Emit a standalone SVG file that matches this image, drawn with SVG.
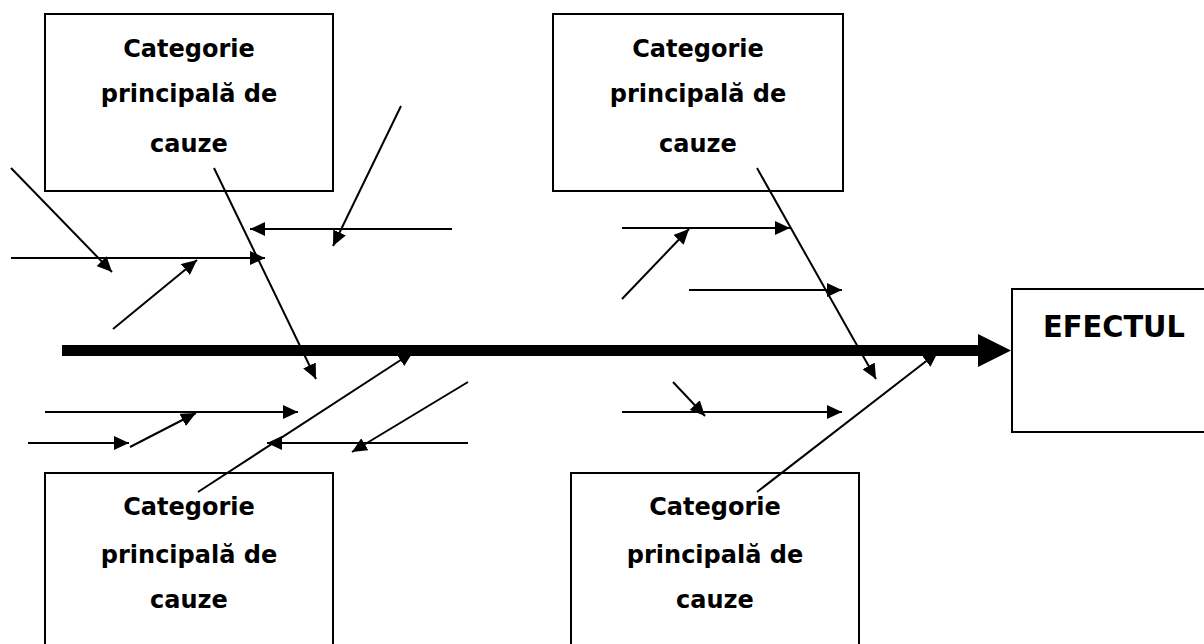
<svg xmlns="http://www.w3.org/2000/svg" width="1204" height="644" viewBox="0 0 1204 644">
<style>
.box{fill:#fff;stroke:#000;stroke-width:2}
.lbl{font-family:"DejaVu Sans",sans-serif;font-weight:bold;font-size:24px;fill:#000;text-anchor:middle}
.eff{font-family:"DejaVu Sans",sans-serif;font-weight:bold;font-size:31px;fill:#000;text-anchor:middle}
.c{stroke:#000;stroke-width:2;fill:none;marker-end:url(#ah)}
</style>
<defs>
<marker id="ah" markerUnits="userSpaceOnUse" markerWidth="16" markerHeight="14" refX="15" refY="7" orient="auto">
<path d="M0,0 L15,7 L0,14 z" fill="#000"/>
</marker>
</defs>
<rect width="1204" height="644" fill="#fff"/>
<g id="cat-top-left">
<rect class="box" x="45" y="14" width="288" height="177"/>
<text class="lbl" x="189" y="57">Categorie</text>
<text class="lbl" x="189" y="102">principală de</text>
<text class="lbl" x="189" y="152">cauze</text>
</g>
<g id="cat-top-right">
<rect class="box" x="553" y="14" width="290" height="177"/>
<text class="lbl" x="698" y="57">Categorie</text>
<text class="lbl" x="698" y="102">principală de</text>
<text class="lbl" x="698" y="152">cauze</text>
</g>
<g id="cat-bottom-left">
<rect class="box" x="45" y="473" width="288" height="200"/>
<text class="lbl" x="189" y="515">Categorie</text>
<text class="lbl" x="189" y="563">principală de</text>
<text class="lbl" x="189" y="608">cauze</text>
</g>
<g id="cat-bottom-right">
<rect class="box" x="571" y="473" width="288" height="200"/>
<text class="lbl" x="715" y="515">Categorie</text>
<text class="lbl" x="715" y="563">principală de</text>
<text class="lbl" x="715" y="608">cauze</text>
</g>
<g id="effect">
<rect class="box" x="1012" y="289" width="200" height="143"/>
<text class="eff" x="1114" y="337" textLength="142" lengthAdjust="spacingAndGlyphs">EFECTUL</text>
</g>
<g id="connectors">
<line x1="62" y1="350.5" x2="980" y2="350.5" stroke="#000" stroke-width="11"/>
<polygon points="978,334 1011,350.5 978,367" fill="#000"/>
<line class="c" x1="214" y1="168" x2="316" y2="379"/>
<line class="c" x1="452" y1="229" x2="250" y2="229"/>
<line class="c" x1="401" y1="106" x2="333" y2="246"/>
<line class="c" x1="11" y1="258" x2="265" y2="258"/>
<line class="c" x1="11" y1="168" x2="112" y2="272"/>
<line class="c" x1="113" y1="329" x2="197" y2="260"/>
<line class="c" x1="757" y1="168" x2="876" y2="379"/>
<line class="c" x1="622" y1="228" x2="790" y2="228"/>
<line class="c" x1="622" y1="299" x2="689" y2="229"/>
<line class="c" x1="689" y1="290" x2="842" y2="290"/>
<line class="c" x1="198" y1="492" x2="413" y2="352"/>
<line class="c" x1="45" y1="412" x2="298" y2="412"/>
<line class="c" x1="28" y1="443" x2="129" y2="443"/>
<line class="c" x1="130" y1="447" x2="196" y2="413"/>
<line class="c" x1="468" y1="443" x2="267" y2="443"/>
<line class="c" x1="468" y1="382" x2="352" y2="452"/>
<line class="c" x1="757" y1="492" x2="938" y2="352"/>
<line class="c" x1="622" y1="412" x2="842" y2="412"/>
<line class="c" x1="673" y1="382" x2="705" y2="416"/>
</g>
</svg>
